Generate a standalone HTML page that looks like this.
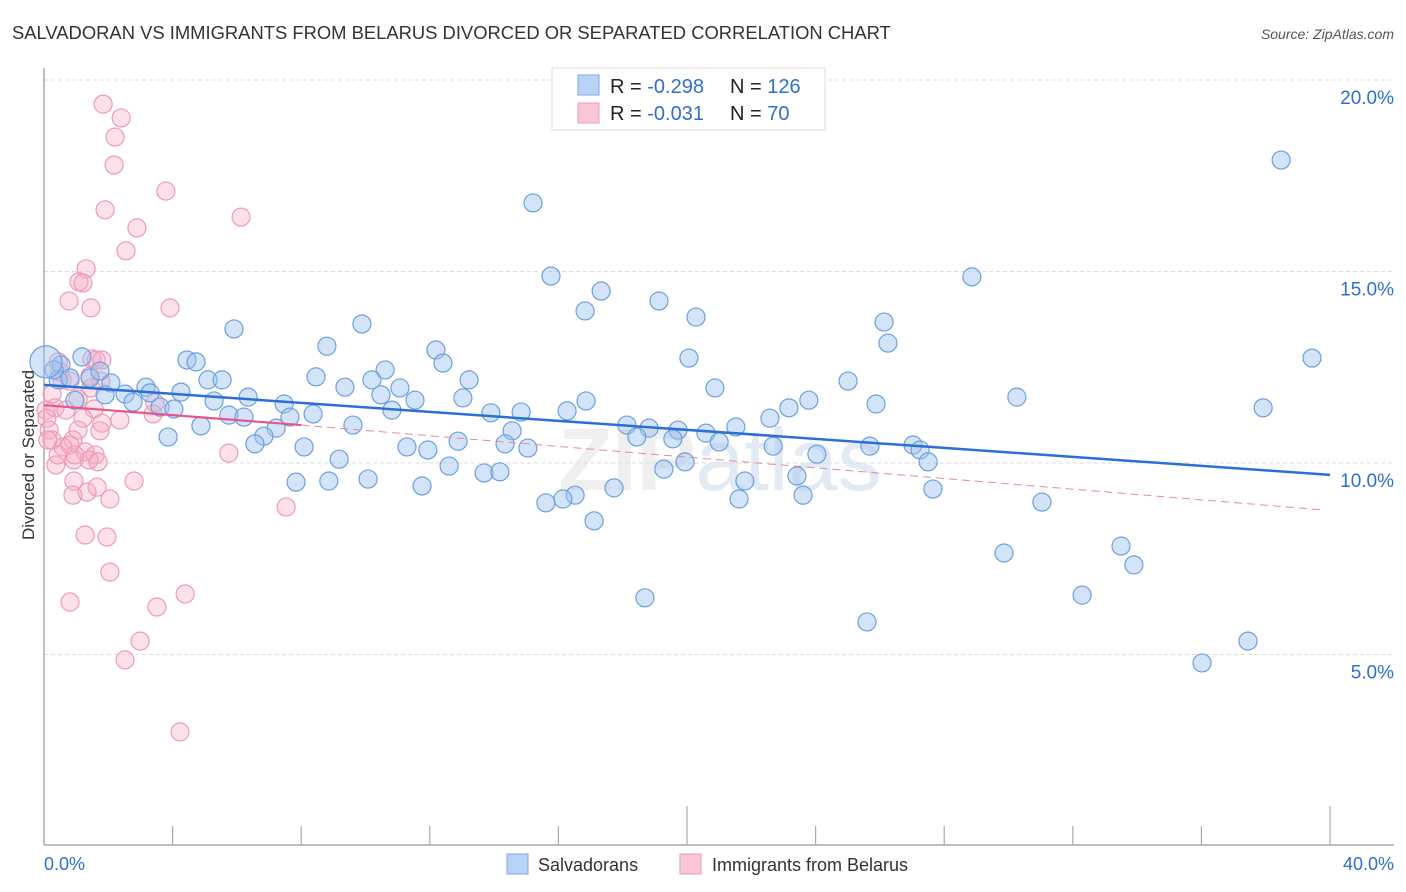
<!DOCTYPE html>
<html><head><meta charset="utf-8"><style>
body{margin:0;background:#fff;font-family:"Liberation Sans",sans-serif;}
svg{display:block}
</style></head><body>
<svg id="chart" width="1406" height="892" xmlns="http://www.w3.org/2000/svg">
<text x="12" y="39" font-size="18.4" fill="#333">SALVADORAN VS IMMIGRANTS FROM BELARUS DIVORCED OR SEPARATED CORRELATION CHART</text>
<text x="1394" y="39" font-size="14" fill="#555" font-style="italic" text-anchor="end">Source: ZipAtlas.com</text>
<text x="720" y="490" font-size="88" fill="#efefef" text-anchor="middle" font-weight="bold">ZIP<tspan font-weight="normal" fill="#e2eaf5">atlas</tspan></text>
<g id="grid"></g>
<g id="axes"></g>
<g id="pts"></g>
<g id="lines"></g>
<text transform="translate(34,455) rotate(-90)" font-size="17" fill="#333" text-anchor="middle">Divorced or Separated</text>
<g>
<rect x="552" y="68" width="273" height="62" fill="#fff" stroke="#ddd"/>
<rect x="578" y="75" width="21" height="20" fill="#b9d3f5" stroke="#7aa7e6"/>
<rect x="578" y="103" width="21" height="20" fill="#f9c6d6" stroke="#ee9ab5"/>
<text x="610" y="93" font-size="20" fill="#222">R = <tspan fill="#2f6fd1">-0.298</tspan><tspan x="730">N = </tspan><tspan fill="#2f6fd1">126</tspan></text>
<text x="610" y="120" font-size="20" fill="#222">R = <tspan fill="#2f6fd1">-0.031</tspan><tspan x="730">N = </tspan><tspan fill="#2f6fd1"> 70</tspan></text>
</g>
<g>
<rect x="507" y="854" width="21" height="20" fill="#b9d3f5" stroke="#7aa7e6"/>
<text x="538" y="871" font-size="18" fill="#333">Salvadorans</text>
<rect x="680" y="854" width="21" height="20" fill="#f9c6d6" stroke="#ee9ab5"/>
<text x="712" y="871" font-size="18" fill="#333">Immigrants from Belarus</text>
</g>
</svg>
<script>
const yTicks=[5,10,15,20];
const yTickLabels=["5.0%","10.0%","15.0%","20.0%"];
const xTickLabels=["0.0%","40.0%"];
const blueX=[15.21,38.48,15.77,28.86,17.33,16.83,19.13,20.28,9.89,26.13,5.91,26.25,8.80,12.19,20.06,12.41,39.44,4.45,4.73,0.53,10.61,8.46,25.01,13.22,5.10,5.54,1.18,2.08,9.36,10.20,11.07,20.87,3.17,4.26,2.52,3.30,1.90,6.35,10.48,11.54,13.03,23.79,30.26,37.92,16.86,25.88,23.17,3.61,4.04,5.29,7.47,2.77,10.82,16.27,13.90,14.84,8.37,5.75,6.22,22.58,7.65,18.13,21.52,18.82,9.61,4.88,7.22,14.56,6.84,19.72,20.59,18.44,19.56,21.0,3.86,12.88,14.34,11.29,15.05,22.68,6.56,8.09,11.94,25.69,27.03,27.25,24.04,9.18,27.50,19.94,12.60,19.28,13.69,14.18,23.42,7.84,8.86,10.08,11.76,21.80,17.73,27.65,16.52,16.14,15.61,23.61,21.62,31.04,17.11,29.86,33.50,33.90,32.29,18.69,25.60,37.45,36.02,0.44,0.81,1.43,1.74,0.96,0.31,0.06];
const blueY=[16.79,17.91,14.88,14.86,14.49,13.97,14.23,13.81,13.63,13.68,13.50,13.13,13.05,12.95,12.74,12.61,12.74,12.69,12.64,12.56,12.43,12.25,12.14,12.17,12.17,12.17,12.77,12.09,11.98,12.17,11.96,11.96,11.98,11.85,11.80,11.83,11.78,11.72,11.78,11.64,11.70,11.64,11.72,11.44,11.62,11.54,11.44,11.46,11.41,11.62,11.54,11.59,11.38,11.36,11.31,11.33,11.28,11.25,11.20,11.17,11.20,10.99,10.94,10.91,10.99,10.97,10.91,10.84,10.70,10.86,10.78,10.68,10.63,10.55,10.68,10.57,10.50,10.42,10.39,10.44,10.50,10.42,10.34,10.44,10.47,10.34,10.23,10.10,10.03,10.03,9.92,9.84,9.74,9.77,9.66,9.50,9.53,9.58,9.40,9.53,9.35,9.32,9.16,9.06,8.96,9.16,9.06,8.98,8.49,7.65,7.83,7.34,6.55,6.48,5.85,5.35,4.78,12.17,12.22,12.22,12.40,11.64,12.43,12.64];
const pinkX=[1.84,2.40,2.21,2.18,3.79,1.90,6.13,2.89,2.55,1.31,1.09,1.21,0.78,1.46,3.92,1.49,1.62,0.44,0.56,0.81,1.46,1.06,1.77,0.34,0.68,1.56,3.39,2.36,0.06,0.09,1.21,1.80,1.06,0.16,0.25,0.90,1.74,3.45,0.59,0.81,1.28,1.59,0.44,0.93,1.40,1.68,0.37,0.96,5.75,7.53,0.93,1.65,2.80,0.90,1.34,2.05,1.28,1.96,2.05,0.81,3.51,4.39,2.99,2.52,4.23,1.80,0.25,0.50,1.43,0.12];
const pinkY=[19.37,19.01,18.51,17.78,17.10,16.61,16.42,16.14,15.54,15.07,14.73,14.70,14.23,14.05,14.05,12.72,12.69,12.64,12.17,12.14,11.96,11.67,12.14,11.44,11.38,11.41,11.28,11.12,11.38,11.17,11.17,11.04,10.86,10.86,10.60,10.60,10.84,11.57,10.42,10.47,10.29,10.21,10.21,10.08,10.08,10.03,9.95,10.21,10.26,8.85,9.53,9.37,9.53,9.16,9.24,9.06,8.12,8.07,7.15,6.37,6.24,6.58,5.35,4.86,2.98,12.69,11.80,12.38,12.27,10.60];
const blueTrend=[12.04,9.69];
const pinkTrend=[11.51,10.99,8.77];
const pinkTrendX=[0,8,40];

const NS="http://www.w3.org/2000/svg";
const X0=44,X1=1330,Y0=846,Y20=80;
function sx(v){return X0+(X1-X0)*v/40;}
function sy(v){return Y0-(Y0-Y20)*v/20;}
function mk(tag,attrs,parent){const e=document.createElementNS(NS,tag);for(const k in attrs)e.setAttribute(k,attrs[k]);parent.appendChild(e);return e;}
const grid=document.getElementById('grid'),axes=document.getElementById('axes'),pts=document.getElementById('pts'),lines=document.getElementById('lines');
yTicks.forEach((t,i)=>{
  const l=mk('line',{x1:X0,x2:1394,y1:sy(t),y2:sy(t),stroke:'#ddd','stroke-dasharray':'4,3'},grid);
  
  
  const tx=mk('text',{x:1394,y:sy(t)+24,'font-size':19,fill:'#2f6fd1','text-anchor':'end'},axes);
  tx.textContent=yTickLabels[i];
  
  
});
const ax=mk('line',{x1:X0,x2:1394,y1:845,y2:845,stroke:'#aaa','stroke-width':1.5},axes);


const ay=mk('line',{x1:X0,x2:X0,y1:68,y2:845,stroke:'#aaa','stroke-width':1.5},axes);


for(let k=1;k<=10;k++){
  const v=k*4;const long=(k==5||k==10);
  const t=mk('line',{x1:sx(v),x2:sx(v),y1:long?806:826,y2:845,stroke:'#aaa','stroke-width':1.2},axes);
  
  
}
[[0,'start',X0],[40,'end',1394]].forEach((p,i)=>{
  const tx=mk('text',{x:p[2],y:870,'font-size':18,fill:'#2f6fd1','text-anchor':p[1]},axes);
  tx.textContent=xTickLabels[i];
  
  
});
pinkX.forEach((v,i)=>{
  const c=mk('circle',{cx:sx(v),cy:sy(pinkY[i]),r:9,fill:'rgba(246,170,196,0.35)',stroke:'#ef9ab5','stroke-width':1.2},pts);
  
  
});
blueX.forEach((v,i)=>{
  const big=i==blueX.length-1;
  const c=mk('circle',{cx:sx(v),cy:sy(blueY[i]),r:big?16:9,fill:'rgba(160,196,240,0.45)',stroke:'#6b9fe2','stroke-width':1.2},pts);
  
  
});
const bl=mk('line',{x1:sx(0),y1:sy(blueTrend[0]),x2:sx(40),y2:sy(blueTrend[1]),stroke:'#2a6fd6','stroke-width':2.5},lines);


const pl=mk('line',{x1:sx(pinkTrendX[0]),y1:sy(pinkTrend[0]),x2:sx(pinkTrendX[1]),y2:sy(pinkTrend[1]),stroke:'#e8558a','stroke-width':2.2},lines);


const pd=mk('line',{x1:sx(pinkTrendX[1]),y1:sy(pinkTrend[1]),x2:sx(pinkTrendX[2])-5,y2:sy(pinkTrend[2]),stroke:'#e8889f','stroke-width':1,'stroke-dasharray':'8,5'},lines);


</script>
</body></html>
